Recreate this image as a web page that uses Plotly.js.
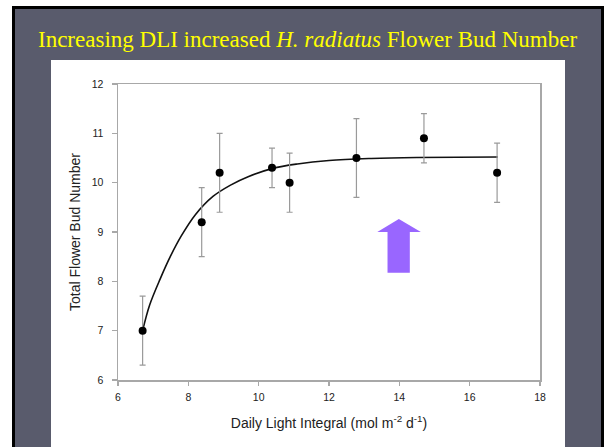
<!DOCTYPE html>
<html>
<head>
<meta charset="utf-8">
<script src="https://cdn.plot.ly/plotly-3.0.1.min.js"></script>
<style>html,body{margin:0;padding:0;background:#fff;}#chart{width:604px;height:447px;}</style>
</head>
<body>
<div id="chart"></div>
<script>
// Measured means (Daily Light Integral vs total flower bud number)
const dli = [6.7, 8.38, 8.89, 10.38, 10.88, 12.78, 14.7, 16.78];
const budNumber = [7.0, 9.2, 10.2, 10.3, 10.0, 10.5, 10.9, 10.2];
const budError = [0.7, 0.7, 0.8, 0.4, 0.6, 0.8, 0.5, 0.6];

// Fitted curve, points
const fitX = [6.7, 6.9, 7.2, 7.5, 7.8, 8.2, 8.7, 9.2, 9.7, 10.4, 11.1, 12.0, 13.2, 14.5, 16.8];
const fitY = [7.0, 7.52, 8.05, 8.52, 8.92, 9.35, 9.72, 9.95, 10.12, 10.29, 10.38, 10.45, 10.49, 10.51, 10.52];

const xTicks = [6, 8, 10, 12, 14, 16, 18];
const yTicks = [6, 7, 8, 9, 10, 11, 12];

const slideTitle = 'Increasing DLI increased <i>H. radiatus</i> Flower Bud Number';
const xTitle = 'Daily Light Integral (mol m<sup>-2</sup> d<sup>-1</sup>)';
const yTitle = 'Total Flower Bud Number';

// plot area: x 118..540 px, y 84..380 px
const L = 118, R = 540, T = 84, B = 380, W = 604, H = 447;
const px = X => (X - L) / (R - L);
const py = Y => (B - Y) / (B - T);

const traces = [
  {
    x: fitX, y: fitY, type: 'scatter', mode: 'lines',
    line: {color: '#111', width: 1.6, shape: 'spline'},
    hoverinfo: 'skip', showlegend: false
  },
  {
    x: dli, y: budNumber, type: 'scatter', mode: 'markers',
    marker: {color: '#000', size: 8},
    error_y: {type: 'data', array: budError, visible: true, color: '#9a9a9a', thickness: 1.2, width: 3},
    showlegend: false
  }
];

const shapes = [
  // black slide border
  {type: 'rect', xref: 'paper', yref: 'paper', x0: px(12), x1: px(605), y0: py(460), y1: py(6), fillcolor: '#000', line: {width: 0}, layer: 'below'},
  // slide background
  {type: 'rect', xref: 'paper', yref: 'paper', x0: px(15), x1: px(601), y0: py(460), y1: py(9), fillcolor: '#595b6c', line: {width: 0}, layer: 'below'},
  // white chart panel
  {type: 'rect', xref: 'paper', yref: 'paper', x0: px(51), x1: px(565), y0: py(460), y1: py(60), fillcolor: '#fff', line: {width: 0}, layer: 'below'},
  // purple arrow
  {type: 'path', xref: 'x', yref: 'y',
   path: 'M 13.664 8.175 L 14.298 8.175 L 14.298 9.0 L 14.612 9.0 L 13.986 9.264 L 13.374 9.0 L 13.664 9.0 Z',
   fillcolor: '#9966ff', line: {width: 0}, layer: 'above'}
];

const layout = {
  width: W, height: H,
  margin: {l: L, r: W - R, t: T, b: H - B, pad: 0},
  paper_bgcolor: '#ffffff',
  plot_bgcolor: '#ffffff',
  font: {family: 'Liberation Sans, Arial, sans-serif', color: '#222'},
  showlegend: false,
  xaxis: {
    range: [6, 18], tickvals: xTicks, ticktext: xTicks.map(String),
    showgrid: false, zeroline: false,
    showline: true, linecolor: '#a8a8a8', linewidth: 1.5, mirror: true,
    ticks: 'outside', ticklen: 4, tickcolor: '#a8a8a8', tickwidth: 1.5,
    tickfont: {size: 10.5, color: '#222'}, ticklabelstandoff: 3,
    title: {text: xTitle, font: {size: 14, color: '#222'}, standoff: 16}
  },
  yaxis: {
    range: [6, 12], tickvals: yTicks, ticktext: yTicks.map(String),
    showgrid: false, zeroline: false,
    showline: true, linecolor: '#a8a8a8', linewidth: 1.5, mirror: true,
    ticks: 'outside', ticklen: 5, tickcolor: '#a8a8a8', tickwidth: 1.5,
    tickfont: {size: 10.5, color: '#222'}, ticklabelstandoff: 6,
    title: {text: yTitle, font: {size: 14, color: '#222'}, standoff: 8}
  },
  shapes: shapes,
  annotations: [
    {text: slideTitle, xref: 'paper', yref: 'paper', x: px(307), y: py(40),
     xanchor: 'center', yanchor: 'middle', showarrow: false,
     font: {family: 'Liberation Serif, Times New Roman, serif', size: 23, color: '#ffff00'}}
  ]
};

Plotly.newPlot('chart', traces, layout, {displayModeBar: false, staticPlot: true});
</script>
</body>
</html>
